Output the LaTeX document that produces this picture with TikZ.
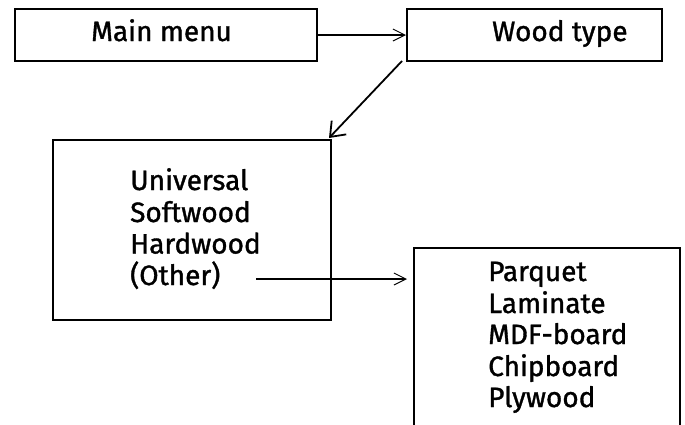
\documentclass[tikz,border=0pt]{standalone}
\usepackage{fontspec}
\setmainfont{Fira Sans}[FakeBold=1.2]
\usetikzlibrary{arrows.meta,calc}
\tikzset{
  box/.style={draw, line width=2pt, rectangle, inner sep=0pt},
  lbl/.style={anchor=base west, inner sep=0pt, font=\fontsize{28}{33}\selectfont},
  conn/.style={line width=1.8pt, -{Straight Barb[length=12pt,width=12pt,line width=1pt]}},
  bigconn/.style={line width=1.8pt, -{Straight Barb[length=13pt,width=20pt,line width=1.8pt]}}
}
\begin{document}
\begin{tikzpicture}[x=1pt,y=-1pt]
\useasboundingbox (0,0) rectangle (685,424);
\fill[white] (0,0) rectangle (685,424);
\begin{scope}
\clip (0,0) rectangle (685,424);
% boxes
\node[box, minimum width=302pt, minimum height=52pt] (menu) at (166,35) {};
\node[box, minimum width=255pt, minimum height=52pt] (wood) at (534.5,35) {};
\node[box, minimum width=278pt, minimum height=180pt] (kind) at (192,230) {};
\node[box, minimum width=266pt, minimum height=220pt] (prod) at (547,358) {};
% labels
\node[lbl] (tmenu) at (91,41) {Main menu};
\node[lbl] (twood) at (492,41) {Wood type};
\node[lbl] (u1) at (130,190) {Universal};
\node[lbl] (u2) at (130,222) {Softwood};
\node[lbl] (u3) at (130,253.5) {Hardwood};
\node[lbl] (u4) at (130,285) {(Other)};
\node[lbl] (p1) at (488,281) {Parquet};
\node[lbl] (p2) at (488,313) {Laminate};
\node[lbl] (p3) at (488,344) {MDF-board};
\node[lbl] (p4) at (488,376) {Chipboard};
\node[lbl] (p5) at (488,407) {Plywood};
% connectors
\draw[conn] (menu.east) -- (wood.west);
\draw[bigconn] ($(wood.south west)+(-4,-1)$) -- ($(kind.north east)+(-3,-1)$);
\coordinate (o1) at (256,279);
\draw[conn, shorten >=6pt] (o1) -- (o1 -| prod.west);
\end{scope}
\end{tikzpicture}
\end{document}
